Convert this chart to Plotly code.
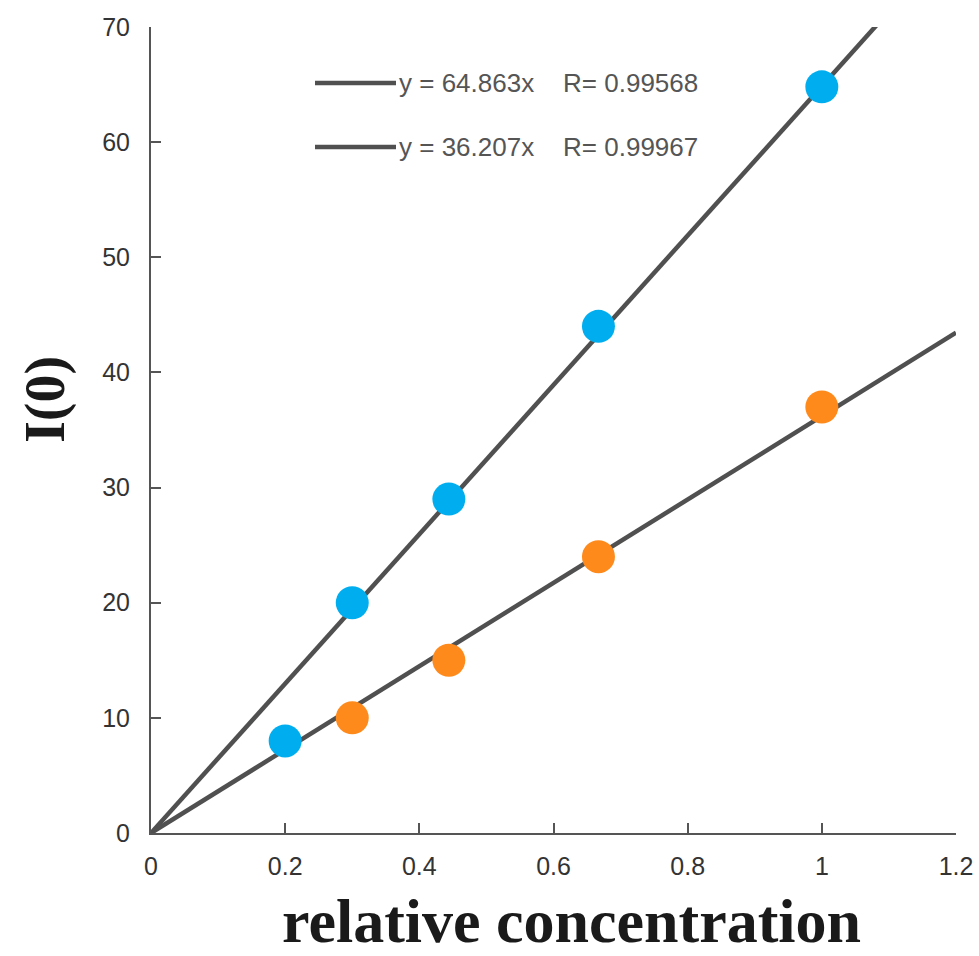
import plotly.graph_objects as go

# Data
conc_blue = [0.2, 0.3, 0.444, 0.667, 1.0]
i0_blue = [8, 20, 29, 44, 64.8]
conc_orange = [0.3, 0.444, 0.667, 1.0]
i0_orange = [10, 15, 24, 37]
slope_blue = 64.863
slope_orange = 36.207
fit_x_blue = [0, 1.082]
fit_x_orange = [0, 1.2]
legend_texts = ["y = 64.863x&#160;&#160;&#160;&#160;R= 0.99568", "y = 36.207x&#160;&#160;&#160;&#160;R= 0.99967"]
x_ticks = [0, 0.2, 0.4, 0.6, 0.8, 1, 1.2]
x_tick_labels = ["0", "0.2", "0.4", "0.6", "0.8", "1", "1.2"]
y_ticks = [0, 10, 20, 30, 40, 50, 60, 70]

line_color = "#505050"
blue = "#00AEEF"
orange = "#FF8A1C"
tick_font = dict(family="Liberation Sans, Arial", size=25, color="#333333")

fig = go.Figure()
fig.add_trace(go.Scatter(x=fit_x_blue, y=[slope_blue * v for v in fit_x_blue], mode="lines",
                         line=dict(color=line_color, width=4.5), showlegend=False, hoverinfo="skip"))
fig.add_trace(go.Scatter(x=fit_x_orange, y=[slope_orange * v for v in fit_x_orange], mode="lines",
                         line=dict(color=line_color, width=4.5), showlegend=False, hoverinfo="skip"))
fig.add_trace(go.Scatter(x=conc_blue, y=i0_blue, mode="markers",
                         marker=dict(color=blue, size=33, line=dict(width=0)), showlegend=False))
fig.add_trace(go.Scatter(x=conc_orange, y=i0_orange, mode="markers",
                         marker=dict(color=orange, size=33, line=dict(width=0)), showlegend=False))

W, H = 979, 956
L, R, T, B = 151, 23, 27, 123
pw, ph = W - L - R, H - T - B

def px_to_paper(x, y):
    return (x - L) / pw, 1 - (y - T) / ph

shapes = []
annotations = []
for i, (yy, txt) in enumerate(zip([83, 147], legend_texts)):
    x0, y0 = px_to_paper(315, yy)
    x1, _ = px_to_paper(396, yy)
    shapes.append(dict(type="line", xref="paper", yref="paper", x0=x0, x1=x1, y0=y0, y1=y0,
                       line=dict(color=line_color, width=4.5)))
    tx, _ = px_to_paper(397, yy)
    annotations.append(dict(xref="paper", yref="paper", x=tx, y=y0, text=txt, showarrow=False,
                            xanchor="left", yanchor="middle",
                            font=dict(family="Liberation Sans, Arial", size=26, color="#555555")))

# axis titles
ax, ay = px_to_paper(571, 921)
annotations.append(dict(xref="paper", yref="paper", x=ax, y=ay, text="<b>relative concentration</b>",
                        showarrow=False, xanchor="center", yanchor="middle",
                        font=dict(family="Liberation Serif, Times New Roman", size=62, color="#1a1a1a")))
bx, by = px_to_paper(45, 400)
annotations.append(dict(xref="paper", yref="paper", x=bx, y=by, text="<b>I(0)</b>", textangle=-90,
                        showarrow=False, xanchor="center", yanchor="middle",
                        font=dict(family="Liberation Serif, Times New Roman", size=56, color="#1a1a1a")))

fig.update_layout(
    width=W, height=H,
    margin=dict(l=L, r=R, t=T, b=B, autoexpand=False),
    paper_bgcolor="white", plot_bgcolor="white",
    shapes=shapes, annotations=annotations,
    xaxis=dict(range=[0, 1.2], tickvals=x_ticks, ticktext=x_tick_labels, ticks="inside", ticklen=10,
               tickwidth=2, tickcolor="#555555", showline=True, linecolor="#555555", linewidth=2,
               showgrid=False, zeroline=False, tickfont=tick_font, ticklabelstandoff=10,
               automargin=False),
    yaxis=dict(range=[0, 70], tickvals=y_ticks, ticks="inside", ticklen=10, tickwidth=2,
               tickcolor="#555555", showline=True, linecolor="#555555", linewidth=2,
               showgrid=False, zeroline=False, tickfont=tick_font, ticklabelstandoff=14,
               automargin=False),
)

fig.write_html("out.html")
